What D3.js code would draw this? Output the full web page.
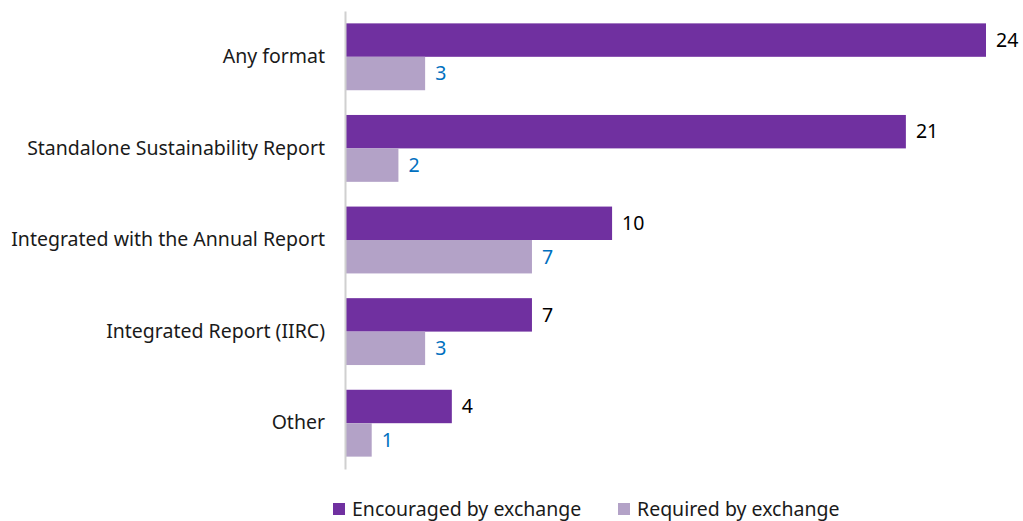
<!DOCTYPE html>
<html>
<head>
<meta charset="utf-8">
<script src="https://d3js.org/d3.v7.min.js"></script>
<style>
  body { margin: 0; background: #fff; }
  text { font-family: "Noto Sans", sans-serif; }
</style>
</head>
<body>
<script>
// data
var categories = ["Any format", "Standalone Sustainability Report", "Integrated with the Annual Report", "Integrated Report (IIRC)", "Other"];
var seriesNames = ["Encouraged by exchange", "Required by exchange"];
var encouraged = [24, 21, 10, 7, 4];
var required = [3, 2, 7, 3, 1];

var colors = ["#7030a0", "#b3a2c7"];
var labelColors = ["#000000", "#0070c0"];
var fontSize = "19.5px";

var W = 1023, H = 521;
var svg = d3.select("body").append("svg").attr("width", W).attr("height", H);

var plotLeft = 345, plotTop = 11, plotBottom = 469;

var x = d3.scaleLinear().domain([0, 24]).range([plotLeft, 986]);
var y = d3.scaleBand().domain(categories).range([plotTop, plotBottom]).paddingInner(0.27).paddingOuter(0.135);
var ySub = d3.scaleBand().domain([0, 1]).range([0, y.bandwidth()]);

var rows = categories.map(function (c, i) {
  return {cat: c, vals: [encouraged[i], required[i]]};
});

var g = svg.selectAll("g.row").data(rows).enter().append("g")
  .attr("class", "row")
  .attr("transform", function (d) { return "translate(0," + y(d.cat) + ")"; });

g.selectAll("rect").data(function (d) { return d.vals; }).enter().append("rect")
  .attr("x", x(0))
  .attr("y", function (d, i) { return ySub(i); })
  .attr("width", function (d) { return x(d) - x(0); })
  .attr("height", ySub.bandwidth())
  .attr("fill", function (d, i) { return colors[i]; });

g.selectAll("text.val").data(function (d) { return d.vals; }).enter().append("text")
  .attr("class", "val")
  .attr("x", function (d) { return x(d) + 10; })
  .attr("y", function (d, i) { return ySub(i) + ySub.bandwidth() / 2; })
  .attr("dy", "0.35em")
  .style("font-size", fontSize)
  .attr("fill", function (d, i) { return labelColors[i]; })
  .text(function (d) { return d; });

// category axis
var yAxis = d3.axisLeft(y).tickSize(0).tickPadding(20);
var ax = svg.append("g").attr("transform", "translate(" + plotLeft + ",0)").call(yAxis);
ax.select(".domain").attr("stroke", "#d0d0d0").attr("stroke-width", 2);
ax.selectAll("text").style("font-size", fontSize).attr("fill", "#1a1a1a")
  .style("font-family", "'Noto Sans', sans-serif");

// legend
var legend = [{name: seriesNames[0], x: 333}, {name: seriesNames[1], x: 618}];
var lg = svg.selectAll("g.leg").data(legend).enter().append("g")
  .attr("class", "leg")
  .attr("transform", function (d) { return "translate(" + d.x + ",503)"; });
lg.append("rect").attr("width", 12).attr("height", 12)
  .attr("fill", function (d, i) { return colors[i]; });
lg.append("text").attr("x", 19).attr("y", 6).attr("dy", "0.35em")
  .style("font-size", fontSize).attr("fill", "#1a1a1a")
  .text(function (d) { return d.name; });
</script>
</body>
</html>
